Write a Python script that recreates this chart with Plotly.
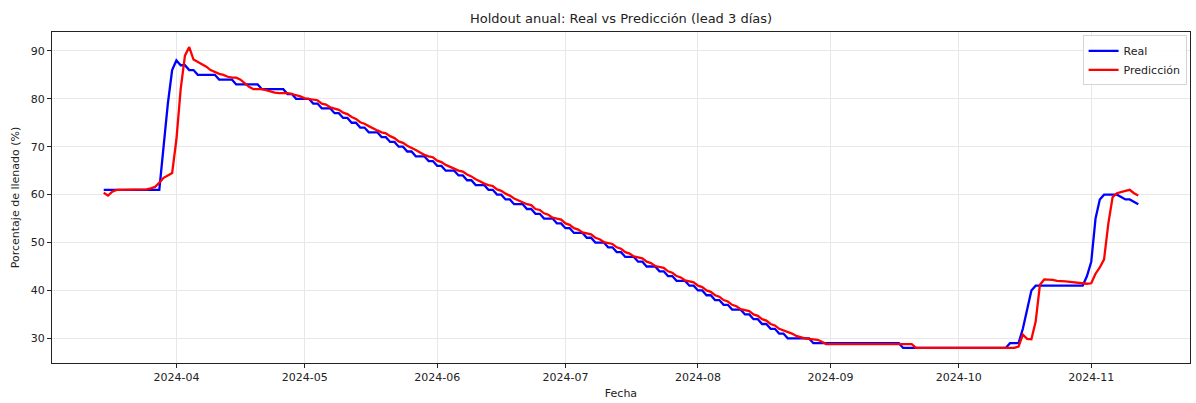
import pandas as pd
import plotly.graph_objects as go

# Daily series, 2024-03-15 .. 2024-11-12
start_date = "2024-03-15"

real = [
    # Mar 15-31
    61, 61, 61, 61, 61, 61, 61, 61, 61, 61, 61, 61, 61, 61, 70, 79, 86,
    # Apr
    88, 87, 87, 86, 86, 85, 85, 85, 85, 85, 84, 84, 84, 84, 83, 83, 83, 83, 83, 83,
    82, 82, 82, 82, 82, 82, 81, 81, 80, 80,
    # May
    80, 80, 79, 79, 78, 78, 78, 77, 77, 76, 76, 75, 75, 74, 74, 73, 73, 73, 72, 72,
    71, 71, 70, 70, 69, 69, 68, 68, 68, 67, 67,
    # Jun
    66, 66, 65, 65, 65, 64, 64, 63, 63, 62, 62, 62, 61, 61, 60, 60, 59, 59, 58, 58,
    58, 57, 57, 56, 56, 55, 55, 55, 54, 54,
    # Jul
    53, 53, 52, 52, 52, 51, 51, 50, 50, 50, 49, 49, 48, 48, 47, 47, 47, 46, 46, 45,
    45, 45, 44, 44, 43, 43, 42, 42, 42, 41, 41,
    # Aug
    40, 40, 39, 39, 38, 38, 37, 37, 36, 36, 36, 35, 35, 34, 34, 33, 33, 32, 32, 31,
    31, 30, 30, 30, 30, 30, 30, 29, 29, 29, 29,
    # Sep
    29, 29, 29, 29, 29, 29, 29, 29, 29, 29, 29, 29, 29, 29, 29, 29, 29, 28, 28, 28,
    28, 28, 28, 28, 28, 28, 28, 28, 28, 28,
    # Oct
    28, 28, 28, 28, 28, 28, 28, 28, 28, 28, 28, 28, 29, 29, 29, 32, 36, 40, 41, 41,
    41, 41, 41, 41, 41, 41, 41, 41, 41, 41, 43,
    # Nov 1-12
    46, 55, 59, 60, 60, 60, 60, 59.5, 59, 59, 58.5, 58,
]

pred = [
    # Mar 15-31
    60.4, 59.8, 60.6, 61, 61, 61, 61, 61, 61.1, 61.1, 61.1, 61.3, 61.6, 62.5, 63.5, 64, 64.5,
    # Apr
    71.5, 82, 89, 90.8, 88.2, 87.7, 87.2, 86.7, 86, 85.6, 85.2, 85, 84.6, 84.4, 84.4, 84,
    83.3, 82.5, 82, 82, 82, 81.8, 81.5, 81.3, 81.2, 81.2, 81.2, 81, 80.8, 80.5,
    # May
    80.1, 80, 79.8, 79.7, 79, 78.8, 78.2, 78, 77.7, 77.1, 76.8, 76.2, 75.8, 75.1, 74.8,
    74.3, 73.8, 73.4, 73, 72.8, 72.2, 71.8, 71.1, 70.8, 70.2, 69.8, 69.3, 68.8, 68.3,
    68, 67.8,
    # Jun
    67.1, 66.8, 66.2, 65.8, 65.3, 65, 64.8, 64.2, 63.8, 63.2, 62.8, 62.3, 62, 61.8,
    61.1, 60.8, 60.2, 59.8, 59.2, 58.8, 58.3, 58, 57.8, 57, 56.8, 56.1, 55.8, 55.2,
    55, 54.8,
    # Jul
    54, 53.7, 53, 52.7, 52.1, 51.9, 51.7, 51, 50.7, 50.1, 49.9, 49.7, 49, 48.7, 48,
    47.7, 47.1, 46.9, 46.7, 46, 45.7, 45.1, 44.9, 44.7, 44, 43.7, 43, 42.7, 42.1,
    41.9, 41.7,
    # Aug
    41, 40.7, 40, 39.7, 39, 38.7, 38, 37.7, 37, 36.7, 36.1, 35.9, 35.7, 35, 34.7, 34,
    33.7, 33, 32.7, 32, 31.7, 31.4, 31, 30.5, 30.2, 30, 29.9, 29.8, 29.7, 29.3, 28.8,
    # Sep
    28.8, 28.8, 28.8, 28.8, 28.8, 28.8, 28.8, 28.8, 28.8, 28.8, 28.8, 28.8, 28.8, 28.8,
    28.8, 28.8, 28.8, 28.8, 28.8, 28.8, 28, 28, 28, 28, 28, 28, 28, 28, 28, 28,
    # Oct
    28, 28, 28, 28, 28, 28, 28, 28, 28, 28, 28, 28, 28, 28, 28.3, 30.8, 29.9, 29.8,
    33.5, 41.2, 42.3, 42.3, 42.2, 42, 42, 41.9, 41.8, 41.7, 41.6, 41.5, 41.4,
    # Nov 1-12
    41.5, 43.5, 44.8, 46.5, 54, 59.5, 60.3, 60.6, 60.8, 61, 60.3, 59.8,
]

dates = pd.date_range(start_date, periods=len(real), freq="D")

# matplotlib-like 5% padding around the data on both axes
span = dates[-1] - dates[0]
x_pad = span * 0.05
all_vals = real + pred
y_lo, y_hi = min(all_vals), max(all_vals)
y_pad = (y_hi - y_lo) * 0.05

fig = go.Figure()
fig.add_trace(go.Scatter(x=dates, y=real, mode="lines", name="Real",
                         line=dict(color="#0000ff", width=2.3)))
fig.add_trace(go.Scatter(x=dates, y=pred, mode="lines", name="Predicción",
                         line=dict(color="#ff0000", width=2.3)))

axis_common = dict(
    showline=True, mirror=True, linecolor="#222222", linewidth=1,
    ticks="outside", ticklen=4, tickcolor="#222222", tickwidth=1,
    showgrid=True, gridcolor="#e8e8e8", gridwidth=1, zeroline=False,
    tickfont=dict(size=11, color="#222222"),
)

fig.update_layout(
    width=1196, height=403,
    margin=dict(l=52, r=6, t=32, b=40),
    paper_bgcolor="white", plot_bgcolor="white",
    font=dict(family="DejaVu Sans", size=11, color="#222222"),
    title=dict(text="Holdout anual: Real vs Predicción (lead 3 días)",
               font=dict(size=13, color="#222222"),
               x=0.5, xref="paper", xanchor="center",
               y=1 - 18 / 403, yref="container", yanchor="middle"),
    legend=dict(x=0.997, xanchor="right", y=0.99, yanchor="top",
                bgcolor="rgba(255,255,255,0.85)", bordercolor="#d5d5d5",
                borderwidth=1, font=dict(size=11, color="#222222"),
                itemwidth=30, tracegroupgap=0),
    showlegend=True,
)

fig.update_xaxes(
    type="date",
    range=[dates[0] - x_pad, dates[-1] + x_pad],
    tick0="2024-04-01", dtick="M1", tickformat="%Y-%m",
    title=dict(text="Fecha", font=dict(size=11), standoff=6),
    automargin=False,
    **axis_common,
)
fig.update_yaxes(
    range=[y_lo - y_pad, y_hi + y_pad],
    tick0=0, dtick=10,
    title=dict(text="Porcentaje de llenado (%)", font=dict(size=11), standoff=8),
    automargin=False,
    **axis_common,
)

fig.write_html("out.html")
